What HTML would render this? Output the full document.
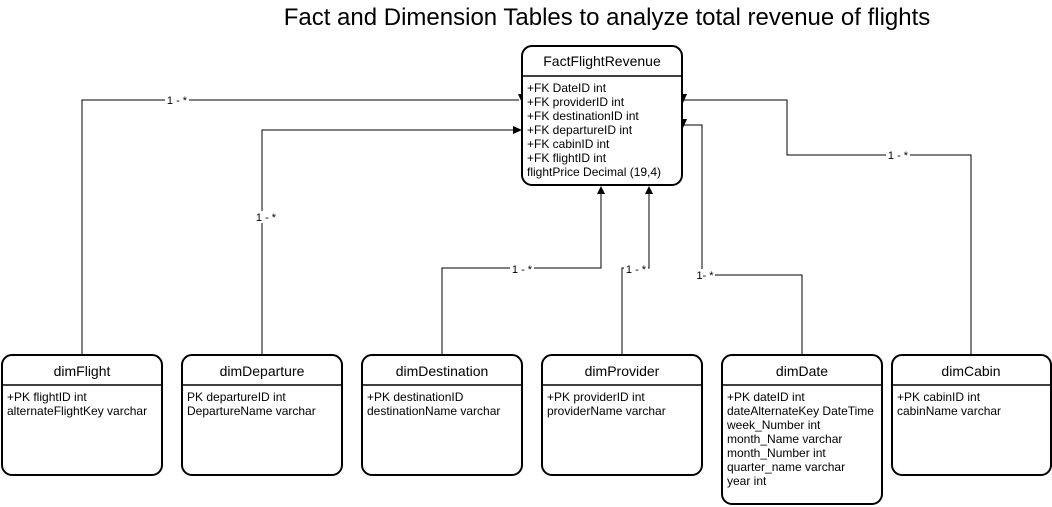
<!DOCTYPE html>
<html><head><meta charset="utf-8"><style>
html,body{margin:0;padding:0;background:#fff;}
svg{display:block;}
text{font-family:"Liberation Sans",Arial,sans-serif;fill:#000;}
.h{font-size:14px;}
.f{font-size:12px;}
.l{font-size:11px;}
</style></head><body>
<svg width="1052" height="507" viewBox="0 0 1052 507" xmlns="http://www.w3.org/2000/svg">
<text x="607" y="25" text-anchor="middle" style="font-size:24px">Fact and Dimension Tables to analyze total revenue of flights</text>
<g fill="none" stroke="#000" stroke-width="1">
<polyline points="82,355 82,100 519,100"/>
<polyline points="262,355 262,130 515,130"/>
<polyline points="442,355 442,268 601,268 601,192"/>
<polyline points="622,355 622,268 649,268 649,192"/>
<polyline points="802,355 802,275 702,275 702,125 683,125"/>
<polyline points="971,355 971,155 787,155 787,100 683,100"/>
</g>
<g fill="#000">
<polygon points="518,94 526,94 522,103"/>
<polygon points="513,126 522,130 513,134"/>
<polygon points="597,194 605,194 601,186"/>
<polygon points="645,194 653,194 649,186"/>
<polygon points="679,94 687,94 683,103"/>
<polygon points="679,119 687,119 683,128"/>
</g>
<g class="l">
<rect x="165" y="94" width="24" height="12" fill="#fff"/><text x="177" y="104" text-anchor="middle">1 - *</text>
<rect x="254" y="211" width="24" height="12" fill="#fff"/><text x="266" y="221" text-anchor="middle">1 - *</text>
<rect x="510" y="263" width="24" height="12" fill="#fff"/><text x="522" y="273" text-anchor="middle">1 - *</text>
<rect x="624" y="263" width="24" height="12" fill="#fff"/><text x="636" y="273" text-anchor="middle">1 - *</text>
<rect x="695" y="269" width="20" height="12" fill="#fff"/><text x="705" y="279" text-anchor="middle">1- *</text>
<rect x="886" y="149" width="24" height="12" fill="#fff"/><text x="898" y="159" text-anchor="middle">1 - *</text>
</g>
<g fill="#fff" stroke="#000" stroke-width="2">
<rect x="522" y="46" width="160" height="139" rx="10"/>
<rect x="2" y="355" width="160" height="120" rx="10"/>
<rect x="182" y="355" width="160" height="120" rx="10"/>
<rect x="362" y="355" width="160" height="120" rx="10"/>
<rect x="542" y="355" width="160" height="120" rx="10"/>
<rect x="722" y="355" width="160" height="149" rx="10"/>
<rect x="892" y="355" width="159" height="120" rx="10"/>
</g>
<g stroke="#000" stroke-width="1.5">
<line x1="522" y1="76" x2="682" y2="76"/>
<line x1="2" y1="385" x2="162" y2="385"/>
<line x1="182" y1="385" x2="342" y2="385"/>
<line x1="362" y1="385" x2="522" y2="385"/>
<line x1="542" y1="385" x2="702" y2="385"/>
<line x1="722" y1="385" x2="882" y2="385"/>
<line x1="892" y1="385" x2="1051" y2="385"/>
</g>
<g class="h" text-anchor="middle">
<text x="602" y="66">FactFlightRevenue</text>
<text x="82" y="376">dimFlight</text>
<text x="262" y="376">dimDeparture</text>
<text x="442" y="376">dimDestination</text>
<text x="622" y="376">dimProvider</text>
<text x="802" y="376">dimDate</text>
<text x="971" y="376">dimCabin</text>
</g>
<g class="f">
<text x="527" y="92">+FK DateID int</text>
<text x="527" y="106">+FK providerID int</text>
<text x="527" y="120">+FK destinationID int</text>
<text x="527" y="134">+FK departureID int</text>
<text x="527" y="148">+FK cabinID int</text>
<text x="527" y="162">+FK flightID int</text>
<text x="527" y="176">flightPrice Decimal (19,4)</text>
<text x="7" y="401">+PK flightID int</text>
<text x="7" y="415">alternateFlightKey varchar</text>
<text x="187" y="401">PK departureID int</text>
<text x="187" y="415">DepartureName varchar</text>
<text x="367" y="401">+PK destinationID</text>
<text x="367" y="415">destinationName varchar</text>
<text x="547" y="401">+PK providerID int</text>
<text x="547" y="415">providerName varchar</text>
<text x="727" y="401">+PK dateID int</text>
<text x="727" y="415">dateAlternateKey DateTime</text>
<text x="727" y="429">week_Number int</text>
<text x="727" y="443">month_Name varchar</text>
<text x="727" y="457">month_Number int</text>
<text x="727" y="471">quarter_name varchar</text>
<text x="727" y="485">year int</text>
<text x="897" y="401">+PK cabinID int</text>
<text x="897" y="415">cabinName varchar</text>
</g>
</svg>
</body></html>
